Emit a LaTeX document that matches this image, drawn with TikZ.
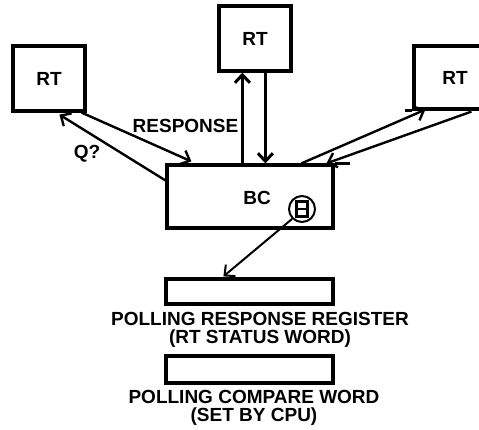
\documentclass[tikz,border=0pt]{standalone}
\usepackage{fontspec}
\setmainfont{Liberation Sans}
\usetikzlibrary{calc}
\usetikzlibrary{arrows.meta}

\begin{document}
\begin{tikzpicture}[x=1pt,y=-1pt,
  >={Straight Barb[length=8pt,width=15pt]},
  unit/.style={draw,line width=3.2pt,inner sep=0pt,font=\bfseries\fontsize{19}{19}\selectfont},
  txt/.style={align=center,inner sep=0pt,font=\bfseries\fontsize{19}{18.5}\selectfont},
  link/.style={->,line width=2.4pt}]
\clip (0,0) rectangle (479,429);
% remote terminals
\node[unit,minimum width=72,minimum height=65] (rtL) at (49,78.5) {RT};
\node[unit,minimum width=72,minimum height=65] (rtM) at (255,38.5) {RT};
\node[unit,minimum width=82,minimum height=63] (rtR) at (455,77.5) {RT};
% bus controller
\node[unit,minimum width=166,minimum height=63,label={[txt,xshift=7pt,yshift=-1.5pt]center:BC}] (bc) at (250,196.5) {};
\node[draw,circle,line width=2pt,minimum size=26,inner sep=0pt] (crc) at (302,209) {};
\draw[line width=2.2pt] ($(crc)+(-5.5,-7.5)$) rectangle ($(crc)+(5.5,7.5)$);
\draw[line width=2.2pt] ($(crc)+(-5.5,0)$) -- ($(crc)+(5.5,0)$);
\draw[line width=3.2pt] (bc.north east) -- ++(15,0);
\draw[line width=3.2pt] (rtR.south west) -- ++(-7,0);
% registers
\node[unit,minimum width=167,minimum height=25] (resp) at (249.5,291.5) {};
\node[txt] (resplbl) at (260,330) {POLLING RESPONSE REGISTER\\(RT STATUS WORD)};
\node[unit,minimum width=167,minimum height=27] (cmp) at (249.5,369.5) {};
\node[txt] (cmplbl) at (254,408) {POLLING COMPARE WORD\\(SET BY CPU)};
% labels
\node[txt] (rsp) at (185.5,125.5) {RESPONSE};
\node[txt] (q) at (87,153.5) {Q?};
% links
\draw[link] ($(rtL.south east)+(-5,0)$) -- ($(bc.north west)+(26,-2)$);
\draw[link] ($(bc.north west)+(0,17)$) -- ($(rtL.south west)+(48,2)$);
\draw[link,line width=3pt] ($(bc.north west)+(77,0)$) -- ($(rtM.south west)+(25,0)$);
\draw[link,line width=3pt] ($(rtM.south west)+(48,0)$) -- ($(bc.north west)+(100,0)$);
\draw[link] ($(bc.north west)+(136,0)$) -- ($(rtR.south west)+(13,-1)$);
\draw[link] ($(rtR.south west)+(59,1)$) -- ($(bc.north west)+(161,0)$);
\draw[link,line width=2pt] (crc.225) -- ($(resp.north west)+(59,-1)$);
\end{tikzpicture}
\end{document}
